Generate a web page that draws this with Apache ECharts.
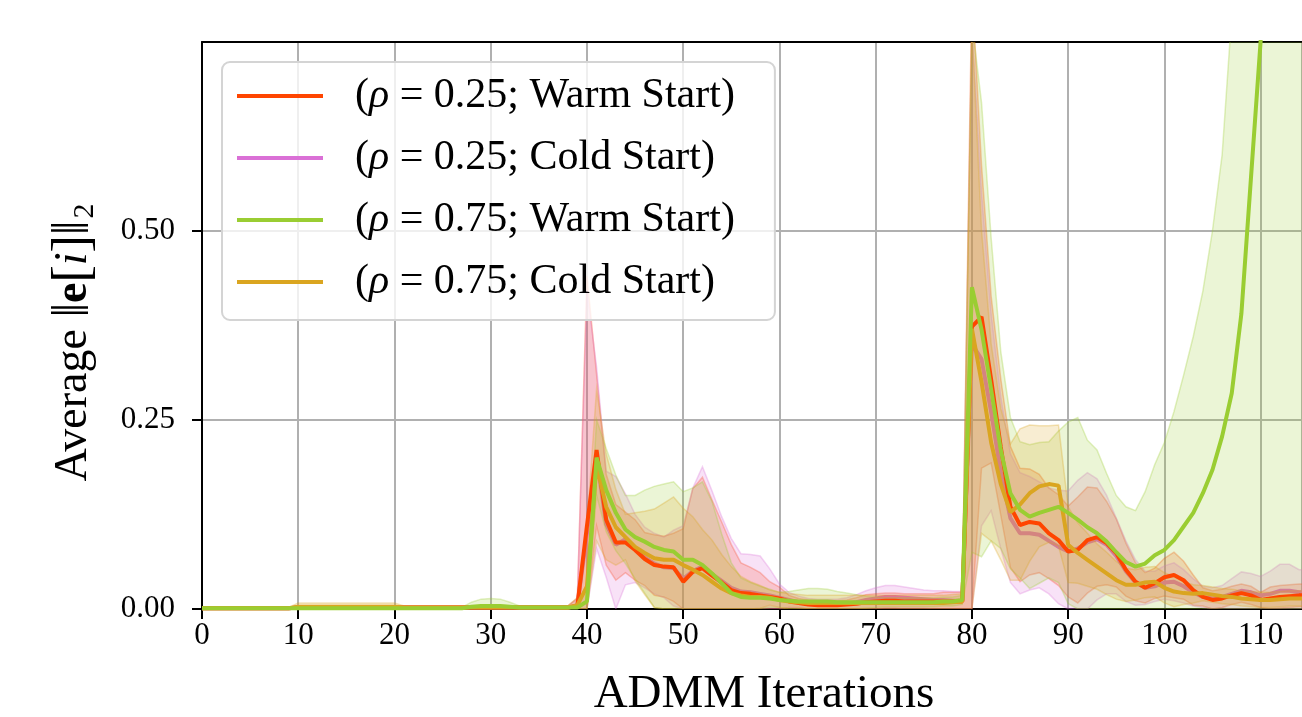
<!DOCTYPE html>
<html>
<head>
<meta charset="utf-8">
<script src="https://cdn.jsdelivr.net/npm/echarts@6/dist/echarts.min.js"></script>
<style>
  html, body { margin: 0; padding: 0; background: #fff; }
  #chart { width: 1302px; height: 717px; }
</style>
</head>
<body>
<div id="chart"></div>
<script>
// iterations 0..115
const iterations = Array.from({ length: 116 }, (_, i) => i)

// mean of ||e[i]||_2, rho = 0.25 warm start
const meanWarm25 = [
  0.001, 0.001, 0.001, 0.001, 0.001, 0.001, 0.001, 0.001, 0.001, 0.001,
  0.002, 0.002, 0.002, 0.002, 0.002, 0.002, 0.002, 0.002, 0.002, 0.002,
  0.002, 0.002, 0.002, 0.002, 0.002, 0.002, 0.002, 0.002, 0.002, 0.002,
  0.002, 0.002, 0.002, 0.002, 0.002, 0.002, 0.002, 0.002, 0.002, 0.004,
  0.11, 0.21, 0.118, 0.088, 0.088, 0.078, 0.066, 0.058, 0.056, 0.055,
  0.036, 0.049, 0.054, 0.044, 0.035, 0.025, 0.021, 0.02, 0.018, 0.016,
  0.014, 0.01, 0.008, 0.006, 0.005, 0.005, 0.005, 0.006, 0.007, 0.009,
  0.01, 0.011, 0.011, 0.01, 0.01, 0.01, 0.01, 0.01, 0.01, 0.01,
  0.373, 0.386, 0.303, 0.214, 0.135, 0.111, 0.115, 0.113, 0.1, 0.091,
  0.076, 0.078, 0.091, 0.095, 0.087, 0.074, 0.052, 0.036, 0.028, 0.034,
  0.042, 0.045, 0.038, 0.025, 0.016, 0.012, 0.014, 0.018, 0.021, 0.018,
  0.012, 0.014, 0.016, 0.017, 0.018, 0.018
]
const stdWarm25 = [
  0.001, 0.001, 0.001, 0.001, 0.001, 0.001, 0.001, 0.001, 0.001, 0.001,
  0.002, 0.002, 0.002, 0.002, 0.002, 0.002, 0.002, 0.002, 0.002, 0.002,
  0.002, 0.002, 0.002, 0.002, 0.002, 0.002, 0.002, 0.002, 0.002, 0.002,
  0.002, 0.002, 0.002, 0.002, 0.002, 0.002, 0.002, 0.002, 0.002, 0.01,
  0.33, 0.1, 0.06, 0.05, 0.04, 0.04, 0.035, 0.04, 0.04, 0.045,
  0.07, 0.11, 0.12, 0.1, 0.08, 0.06, 0.04, 0.035, 0.03, 0.02,
  0.015, 0.008, 0.006, 0.006, 0.006, 0.006, 0.006, 0.006, 0.008, 0.01,
  0.01, 0.01, 0.01, 0.01, 0.01, 0.01, 0.01, 0.012, 0.012, 0.012,
  0.45, 0.2, 0.11, 0.09, 0.08, 0.075, 0.07, 0.065, 0.06, 0.06,
  0.06, 0.07, 0.07, 0.065, 0.055, 0.045, 0.035, 0.025, 0.02, 0.02,
  0.025, 0.03, 0.025, 0.02, 0.012, 0.012, 0.012, 0.012, 0.012, 0.012,
  0.01, 0.015, 0.015, 0.015, 0.015, 0.015
]

// rho = 0.25 cold start
const meanCold25 = [
  0.001, 0.001, 0.001, 0.001, 0.001, 0.001, 0.001, 0.001, 0.001, 0.001,
  0.002, 0.002, 0.002, 0.002, 0.002, 0.002, 0.002, 0.002, 0.002, 0.002,
  0.002, 0.002, 0.002, 0.002, 0.002, 0.002, 0.002, 0.002, 0.002, 0.002,
  0.002, 0.002, 0.002, 0.002, 0.002, 0.002, 0.002, 0.002, 0.002, 0.004,
  0.1, 0.2, 0.112, 0.085, 0.092, 0.08, 0.068, 0.06, 0.055, 0.054,
  0.04, 0.05, 0.056, 0.046, 0.037, 0.028, 0.023, 0.022, 0.02, 0.018,
  0.015, 0.012, 0.009, 0.007, 0.006, 0.006, 0.006, 0.007, 0.009, 0.012,
  0.014, 0.016, 0.016, 0.015, 0.014, 0.013, 0.012, 0.012, 0.011, 0.011,
  0.35, 0.33, 0.26, 0.18, 0.12, 0.1, 0.1, 0.098, 0.09, 0.082,
  0.076, 0.08, 0.088, 0.092, 0.085, 0.07, 0.05, 0.035, 0.028, 0.03,
  0.035, 0.036, 0.03, 0.022, 0.016, 0.014, 0.016, 0.02, 0.024, 0.022,
  0.018, 0.02, 0.024, 0.024, 0.022, 0.022
]
const stdCold25 = [
  0.001, 0.001, 0.001, 0.001, 0.001, 0.001, 0.001, 0.001, 0.001, 0.001,
  0.002, 0.002, 0.002, 0.002, 0.002, 0.002, 0.002, 0.002, 0.002, 0.002,
  0.002, 0.002, 0.002, 0.002, 0.002, 0.002, 0.002, 0.002, 0.002, 0.002,
  0.002, 0.002, 0.002, 0.002, 0.002, 0.002, 0.002, 0.002, 0.002, 0.01,
  0.32, 0.12, 0.07, 0.09, 0.06, 0.045, 0.04, 0.04, 0.04, 0.05,
  0.07, 0.11, 0.132, 0.11, 0.085, 0.065, 0.05, 0.05, 0.05, 0.035,
  0.018, 0.01, 0.008, 0.007, 0.007, 0.007, 0.007, 0.008, 0.01, 0.012,
  0.014, 0.015, 0.015, 0.014, 0.013, 0.012, 0.012, 0.012, 0.012, 0.012,
  0.42, 0.22, 0.13, 0.1, 0.085, 0.08, 0.075, 0.07, 0.07, 0.075,
  0.08, 0.09, 0.092, 0.08, 0.065, 0.05, 0.04, 0.03, 0.022, 0.02,
  0.022, 0.025, 0.022, 0.018, 0.014, 0.014, 0.015, 0.02, 0.025, 0.025,
  0.025, 0.03, 0.035, 0.035, 0.03, 0.03
]

// rho = 0.75 warm start
const meanWarm75 = [
  0.001, 0.001, 0.001, 0.001, 0.001, 0.001, 0.001, 0.001, 0.001, 0.001,
  0.001, 0.001, 0.001, 0.001, 0.001, 0.001, 0.001, 0.001, 0.001, 0.001,
  0.001, 0.001, 0.001, 0.001, 0.001, 0.001, 0.001, 0.001, 0.003, 0.004,
  0.004, 0.004, 0.003, 0.002, 0.002, 0.002, 0.002, 0.002, 0.002, 0.002,
  0.01, 0.2, 0.157, 0.127, 0.105, 0.095, 0.089, 0.082, 0.078, 0.076,
  0.065, 0.065, 0.058, 0.047, 0.034, 0.021, 0.016, 0.015, 0.015, 0.014,
  0.012, 0.011, 0.01, 0.01, 0.01, 0.01, 0.009, 0.009, 0.009, 0.009,
  0.009, 0.009, 0.009, 0.009, 0.009, 0.009, 0.009, 0.01, 0.01, 0.012,
  0.425, 0.369, 0.29, 0.21, 0.153, 0.131, 0.122, 0.127, 0.131, 0.135,
  0.127, 0.118, 0.108, 0.1, 0.089, 0.075, 0.062, 0.056, 0.06, 0.071,
  0.078, 0.091, 0.109, 0.127, 0.153, 0.184, 0.228, 0.285, 0.39, 0.57,
  0.75, 1.05, 1.5, 2.1, 2.9, 4.0
]
const stdWarm75 = [
  0.001, 0.001, 0.001, 0.001, 0.001, 0.001, 0.001, 0.001, 0.001, 0.001,
  0.001, 0.001, 0.001, 0.001, 0.001, 0.001, 0.001, 0.001, 0.001, 0.001,
  0.001, 0.001, 0.001, 0.001, 0.001, 0.001, 0.001, 0.001, 0.006, 0.009,
  0.01, 0.009, 0.006, 0.002, 0.002, 0.002, 0.002, 0.002, 0.002, 0.003,
  0.02, 0.05, 0.055, 0.05, 0.045, 0.055, 0.068, 0.08, 0.087, 0.092,
  0.09, 0.095, 0.11, 0.095, 0.065, 0.04, 0.025, 0.02, 0.015, 0.012,
  0.01, 0.012, 0.015, 0.017, 0.017, 0.016, 0.014, 0.012, 0.01, 0.008,
  0.007, 0.006, 0.006, 0.006, 0.006, 0.006, 0.006, 0.006, 0.006, 0.006,
  0.35, 0.3, 0.2, 0.13, 0.1, 0.09, 0.095, 0.093, 0.09, 0.1,
  0.12, 0.135, 0.115, 0.11, 0.09, 0.075, 0.073, 0.074, 0.095, 0.12,
  0.142, 0.17, 0.2, 0.233, 0.267, 0.316, 0.372, 0.5, 0.65, 0.85,
  1.1, 1.5, 2.0, 2.7, 3.6, 4.8
]

// rho = 0.75 cold start
const meanCold75 = [
  0.001, 0.001, 0.001, 0.001, 0.001, 0.001, 0.001, 0.001, 0.001, 0.001,
  0.003, 0.003, 0.003, 0.003, 0.003, 0.003, 0.003, 0.003, 0.003, 0.003,
  0.003, 0.002, 0.002, 0.002, 0.002, 0.002, 0.002, 0.002, 0.002, 0.002,
  0.002, 0.002, 0.002, 0.002, 0.002, 0.002, 0.002, 0.002, 0.002, 0.005,
  0.03, 0.19, 0.135, 0.108, 0.095, 0.082, 0.074, 0.067, 0.065, 0.065,
  0.058, 0.052, 0.045, 0.036, 0.027, 0.021, 0.018, 0.016, 0.016, 0.015,
  0.012, 0.01, 0.009, 0.008, 0.008, 0.008, 0.008, 0.008, 0.008, 0.008,
  0.008, 0.008, 0.008, 0.008, 0.008, 0.008, 0.008, 0.008, 0.009, 0.01,
  0.37, 0.3, 0.22, 0.165, 0.128, 0.138, 0.153, 0.162, 0.165, 0.163,
  0.085, 0.074, 0.065, 0.056, 0.047, 0.038, 0.032, 0.032, 0.035, 0.036,
  0.028, 0.023, 0.021, 0.02, 0.021, 0.019, 0.017, 0.016, 0.014, 0.013,
  0.012, 0.012, 0.013, 0.014, 0.014, 0.014
]
const stdCold75 = [
  0.001, 0.001, 0.001, 0.001, 0.001, 0.001, 0.001, 0.001, 0.001, 0.001,
  0.005, 0.005, 0.005, 0.005, 0.005, 0.005, 0.005, 0.005, 0.005, 0.005,
  0.005, 0.002, 0.002, 0.002, 0.002, 0.002, 0.002, 0.002, 0.002, 0.002,
  0.002, 0.002, 0.002, 0.002, 0.002, 0.002, 0.002, 0.002, 0.002, 0.01,
  0.08, 0.1, 0.07, 0.05, 0.03, 0.045, 0.055, 0.065, 0.075, 0.083,
  0.075, 0.07, 0.06, 0.055, 0.045, 0.035, 0.025, 0.02, 0.015, 0.01,
  0.01, 0.01, 0.01, 0.01, 0.01, 0.01, 0.01, 0.01, 0.01, 0.01,
  0.01, 0.01, 0.01, 0.01, 0.01, 0.01, 0.01, 0.01, 0.01, 0.01,
  0.4, 0.2, 0.13, 0.1, 0.09, 0.1, 0.09, 0.08, 0.077, 0.08,
  0.05, 0.04, 0.035, 0.03, 0.028, 0.025, 0.022, 0.02, 0.02, 0.02,
  0.02, 0.02, 0.015, 0.012, 0.01, 0.01, 0.01, 0.01, 0.01, 0.01,
  0.01, 0.01, 0.01, 0.01, 0.01, 0.01
]

const xTicks = [0, 10, 20, 30, 40, 50, 60, 70, 80, 90, 100, 110]
const yTicks = [0, 0.25, 0.5]
const X_MAX = 114.3
const Y_MAX = 0.749

const runs = [
  { name: '(ρ = 0.25; Warm Start)', color: '#FF4500', rgb: '255,69,0', mean: meanWarm25, std: stdWarm25, lineZ: 6 },
  { name: '(ρ = 0.25; Cold Start)', color: '#DA70D6', rgb: '218,112,214', mean: meanCold25, std: stdCold25, lineZ: 1 },
  { name: '(ρ = 0.75; Warm Start)', color: '#9ACD32', rgb: '154,205,50', mean: meanWarm75, std: stdWarm75, lineZ: 8 },
  { name: '(ρ = 0.75; Cold Start)', color: '#DAA520', rgb: '218,165,32', mean: meanCold75, std: stdCold75, lineZ: 7 }
]

const FONT = "'Liberation Serif', 'DejaVu Serif', serif"

// mean +/- std band, drawn as one polygon through the axis scales
function bandSeries (run) {
  const low = run.mean.map((m, i) => Math.max(0, m - run.std[i]))
  const high = run.mean.map((m, i) => Math.min(1.5, m + run.std[i]))
  return {
    type: 'custom',
    silent: true,
    z: 2,
    data: iterations.map(i => [i, low[i], high[i]]),
    encode: { x: 0, y: [1, 2] },
    renderItem (params, api) {
      if (params.dataIndex !== 0) return null
      const top = iterations.map(i => api.coord([i, high[i]]))
      const bottom = iterations.map(i => api.coord([i, low[i]])).reverse()
      const cs = params.coordSys
      return {
        type: 'polygon',
        shape: { points: top.concat(bottom) },
        style: {
          fill: 'rgba(' + run.rgb + ',0.2)',
          stroke: 'rgba(' + run.rgb + ',0.3)',
          lineWidth: 1.5
        },
        clipPath: { type: 'rect', shape: { x: cs.x, y: cs.y, width: cs.width, height: cs.height } }
      }
    }
  }
}

function buildSeries () {
  const bands = runs.map(bandSeries)
  const lines = runs.map(run => ({
    type: 'line',
    name: run.name,
    color: run.color,
    data: iterations.map(i => [i, run.mean[i]]),
    symbol: 'none',
    clip: true,
    itemStyle: { color: run.color },
    lineStyle: { color: run.color, width: 4 },
    z: run.lineZ
  }))
  return [...bands, ...lines]
}

const chart = echarts.init(document.getElementById('chart'), null, { renderer: 'canvas' })

const axisText = { fontFamily: FONT, fontSize: 31, color: '#000' }
const blackLine = { color: '#000', width: 2 }
const gridLine = { show: true, lineStyle: { color: '#b0b0b0', width: 2 } }

chart.setOption({
  animation: false,
  backgroundColor: '#fff',
  grid: {
    left: 202,
    top: 42,
    right: 0,
    bottom: 108,
    outerBoundsMode: 'none',
    show: false
  },
  legend: {
    orient: 'vertical',
    left: 222,
    top: 62,
    data: runs.map(r => r.name),
    icon: 'rect',
    itemWidth: 86,
    itemHeight: 4,
    itemGap: 20,
    selectedMode: false,
    backgroundColor: 'rgba(255,255,255,0.8)',
    borderColor: '#d4d4d4',
    borderWidth: 2,
    borderRadius: 8,
    padding: [13, 40, 17, 15],
    formatter: name => '{p|(}{r|ρ}{p|' + name.slice(2) + '}',
    textStyle: {
      padding: [0, 0, 0, 27],
      rich: {
        p: { fontFamily: FONT, fontSize: 42, color: '#000', lineHeight: 42 },
        r: { fontFamily: FONT, fontSize: 42, fontStyle: 'italic', color: '#000', lineHeight: 42 }
      }
    }
  },
  xAxis: [{
    type: 'value',
    min: 0,
    max: X_MAX,
    interval: 10,
    name: 'ADMM Iterations',
    nameLocation: 'middle',
    nameGap: 62,
    nameTextStyle: { fontFamily: FONT, fontSize: 47, color: '#000', padding: [0, 0, 0, 24] },
    axisLine: { show: true, lineStyle: blackLine },
    axisTick: { show: true, length: 10, lineStyle: blackLine },
    axisLabel: {
      ...axisText,
      margin: 11,
      showMaxLabel: false,
      formatter: v => (xTicks.indexOf(v) >= 0 ? String(v) : '')
    },
    splitLine: gridLine
  }, {
    // top spine
    type: 'value',
    position: 'top',
    min: 0,
    max: X_MAX,
    axisLine: { show: true, onZero: false, lineStyle: blackLine },
    axisTick: { show: false },
    axisLabel: { show: false },
    splitLine: { show: false }
  }],
  yAxis: {
    type: 'value',
    min: 0,
    max: Y_MAX,
    interval: 0.25,
    name: '{a|Average }{b|‖}{e|e}{b|[}{i|i}{b|]‖}{s|2}',
    nameLocation: 'middle',
    nameGap: 102,
    nameTextStyle: {
      fontFamily: FONT,
      fontSize: 46,
      color: '#000',
      padding: [0, 34, 0, 0],
      rich: {
        a: { fontFamily: FONT, fontSize: 46, color: '#000' },
        b: { fontFamily: FONT, fontSize: 52, color: '#000' },
        e: { fontFamily: FONT, fontSize: 46, fontWeight: 'bold', color: '#000' },
        i: { fontFamily: FONT, fontSize: 46, fontStyle: 'italic', color: '#000' },
        s: { fontFamily: FONT, fontSize: 30, color: '#000', padding: [22, 0, 0, 2] }
      }
    },
    axisLine: { show: true, lineStyle: blackLine },
    axisTick: { show: true, length: 10, lineStyle: blackLine },
    axisLabel: {
      ...axisText,
      margin: 27,
      showMaxLabel: false,
      formatter: v => {
        const t = yTicks.find(y => Math.abs(y - v) < 1e-9)
        return t === undefined ? '' : t.toFixed(2)
      }
    },
    splitLine: gridLine
  },
  series: buildSeries()
})
</script>
</body>
</html>
